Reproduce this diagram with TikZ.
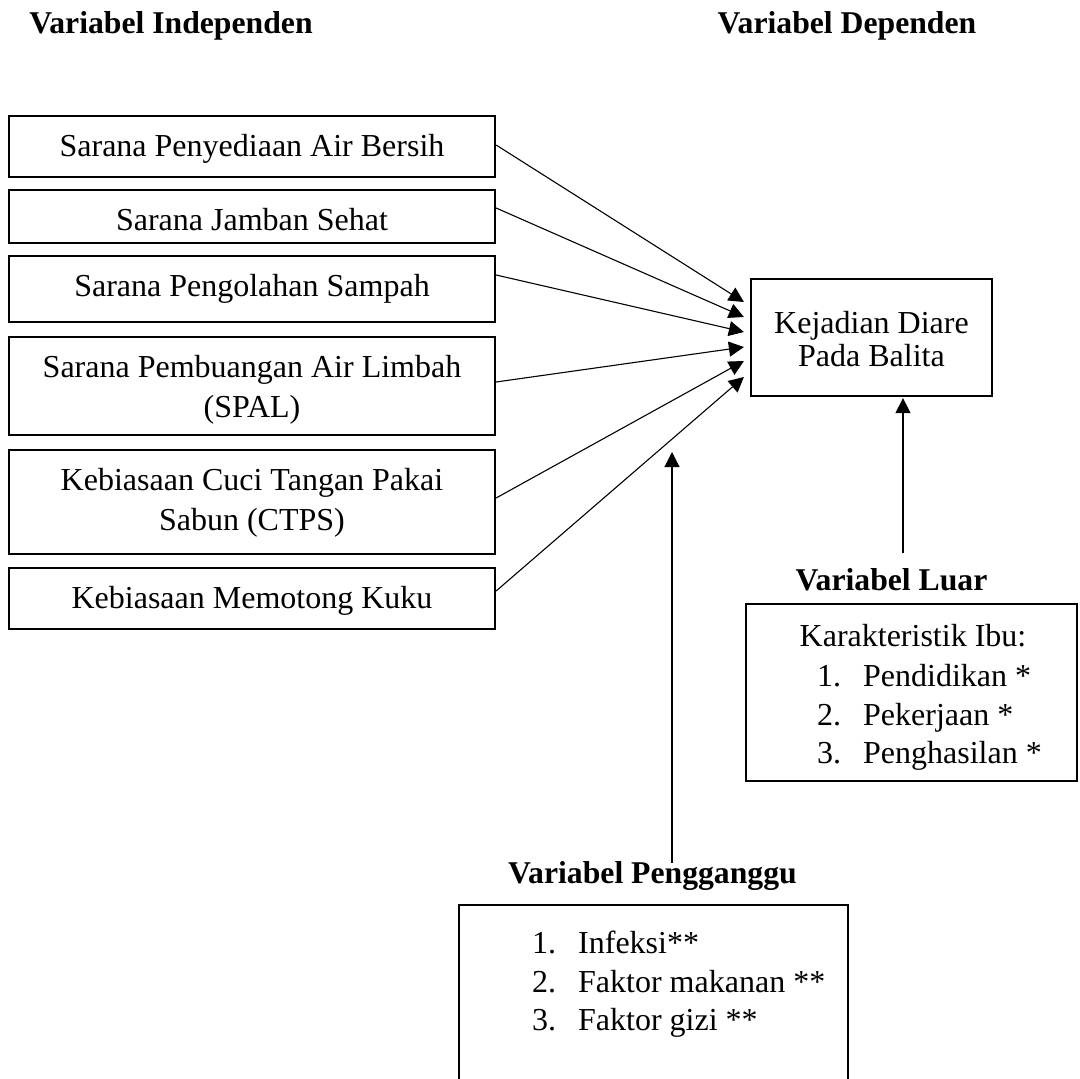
\documentclass[tikz,border=0pt]{standalone}
\usepackage{fontspec}
\setmainfont{Liberation Serif}
\usetikzlibrary{arrows.meta}
\begin{document}
\begin{tikzpicture}[x=1pt,y=-1pt,
  box/.style={draw,line width=2.2pt,align=center,inner sep=0pt,font=\fontsize{32}{40}\selectfont},
  txt/.style={inner sep=0pt,anchor=base,font=\fontsize{32}{40}\selectfont},
  hdr/.style={inner sep=0pt,anchor=base,font=\fontsize{31.7}{40}\selectfont\bfseries},
  item/.style={inner sep=0pt,anchor=base west,font=\fontsize{32}{40}\selectfont},
  arr/.style={line width=1.1pt,-{Triangle[length=15pt,width=15pt]}}]
\useasboundingbox (0,0) rectangle (1080,1079);
\clip (0,0) rectangle (1080,1079);
\fill[white] (0,0) rectangle (1080,1079);

% headers
\node[hdr] (hi) at (171,33) {Variabel Independen};
\node[hdr] (hd) at (847,33) {Variabel Dependen};

% independent variables
\node[box,minimum width=486pt,minimum height=61pt,text height=29.5pt,text depth=10.5pt] (b1) at (252,146.5) {Sarana Penyediaan Air Bersih};
\node[box,minimum width=486pt,minimum height=53pt,text height=34pt,text depth=6pt] (b2) at (252,216.5) {Sarana Jamban Sehat};
\node[box,minimum width=486pt,minimum height=66pt,text height=27pt,text depth=13pt] (b3) at (252,289) {Sarana Pengolahan Sampah};
\node[box,minimum width=486pt,minimum height=98pt] (b4) at (252,386) {\rule{0pt}{31pt}Sarana Pembuangan Air Limbah\\(SPAL)\rule[-9pt]{0pt}{0pt}};
\node[box,minimum width=486pt,minimum height=104pt] (b5) at (252,502) {\rule{0pt}{28pt}Kebiasaan Cuci Tangan Pakai\\Sabun (CTPS)\rule[-12pt]{0pt}{0pt}};
\node[box,minimum width=486pt,minimum height=61pt,text height=30pt,text depth=10pt] (b6) at (252,598.5) {Kebiasaan Memotong Kuku};

% dependent variable
\node[box,minimum width=241pt,minimum height=117pt,font=\fontsize{32}{33}\selectfont] (k) at (871.5,337.5) {\rule{0pt}{32.5pt}Kejadian Diare\\Pada Balita\rule[-7.5pt]{0pt}{0pt}};

% arrows
\draw[arr] ([yshift=1.5pt]b1.east) -- ([xshift=-6pt,yshift=35.5pt]k.west);
\draw[arr] ([yshift=8.5pt]b2.east) -- ([xshift=-6pt,yshift=20.5pt]k.west);
\draw[arr] ([yshift=14pt]b3.east) -- ([xshift=-6pt,yshift=5.5pt]k.west);
\draw[arr] ([yshift=4pt]b4.east) -- ([xshift=-6pt,yshift=-9.5pt]k.west);
\draw[arr] ([yshift=4pt]b5.east) -- ([xshift=-6pt,yshift=-23.5pt]k.west);
\draw[arr] ([yshift=7.5pt]b6.east) -- ([xshift=-6pt,yshift=-39.5pt]k.west);

% variabel luar
\node[hdr] (ll) at (891.5,590) {Variabel Luar};
\node[box,minimum width=331pt,minimum height=177pt] (lb) at (911.5,692.5) {};
\node[txt] (c0) at (913,646) {Karakteristik Ibu:};
\node[item] (c1) at (817,686) {\makebox[46pt][l]{1.}Pendidikan *};
\node[item] (c2) at (817,725) {\makebox[46pt][l]{2.}Pekerjaan *};
\node[item] (c3) at (817,763) {\makebox[46pt][l]{3.}Penghasilan *};
\coordinate (l0) at (903,553);
\draw[arr] (l0) -- ([yshift=-1pt]l0 |- k.south);

% variabel pengganggu
\node[hdr] (pl) at (652.5,883) {Variabel Pengganggu};
\node[box,minimum width=389pt,minimum height=220pt,anchor=north] (pb) at (653.5,904) {};
\node[item] (i1) at (532,953) {\makebox[46pt][l]{1.}Infeksi**};
\node[item] (i2) at (532,992) {\makebox[46pt][l]{2.}Faktor makanan **};
\node[item] (i3) at (532,1030) {\makebox[46pt][l]{3.}Faktor gizi **};
\coordinate (p0) at (672,863);
\coordinate (p1) at (672,452);
\draw[arr] (p0) -- (p1);
\end{tikzpicture}
\end{document}
